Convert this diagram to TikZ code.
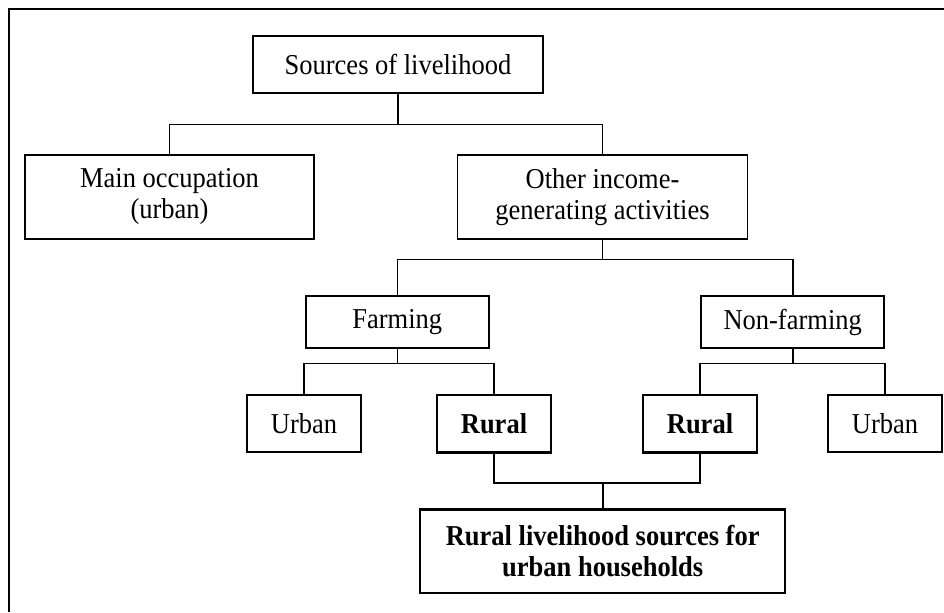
\documentclass[tikz,border=0pt]{standalone}
\usepackage{fontspec}
\setmainfont{Liberation Serif}[FakeStretch=0.92]
\begin{document}
\begin{tikzpicture}[x=0.5pt,y=-0.5pt,
  box/.style={draw=black,line width=0.85pt,rectangle,inner sep=0pt,align=center,
    font=\fontsize{14.4}{15.5}\selectfont},
  boldbox/.style={box,line width=1.2pt,font=\fontsize{14.4}{15.5}\selectfont\bfseries},
  link/.style={draw=black,line width=0.8pt},
  boldlink/.style={draw=black,line width=1.15pt}]
\useasboundingbox (0,0) rectangle (944,612);
\fill[white] (0,0) rectangle (944,612);
% frame
\draw[line width=1pt] (9,612) -- (9,9) -- (944,9);

% boxes
\node[box,minimum width=145pt,minimum height=28.5pt] (src) at (398,64.2) {Sources of livelihood};
\node[box,minimum width=144.5pt,minimum height=42pt] (main) at (169.5,197) {Main occupation\\(urban)};
\node[box,minimum width=145pt,minimum height=42pt] (oth) at (602.5,197) {Other income-\\generating activities};
\node[box,minimum width=91.5pt,minimum height=26.3pt] (farm) at (397.3,322) {Farming};
\node[box,minimum width=91.5pt,minimum height=26.3pt] (nonf) at (792.7,322) {Non-farming};
\node[box,minimum width=57pt,minimum height=28.8pt] (urbL) at (304,423.5) {Urban};
\node[boldbox,minimum width=57pt,minimum height=28.8pt] (rurL) at (494,423.5) {Rural};
\node[boldbox,minimum width=57pt,minimum height=28.8pt] (rurR) at (700,423.5) {Rural};
\node[box,minimum width=57pt,minimum height=28.8pt] (urbR) at (885,423.5) {Urban};
\node[boldbox,minimum width=182.5pt,minimum height=41.7pt] (bot) at (602.7,551) {Rural livelihood sources for\\urban households};

% junction levels
\coordinate (j1) at (0,124.3);
\coordinate (j2) at (0,259.3);
\coordinate (j3) at (0,363.5);
\coordinate (j4) at (0,483.3);

% connectors
\draw[link] (src.south) -- (src.south |- j1);
\draw[link] (main.north) |- (oth.north |- j1) -- (oth.north);
\draw[link] (oth.south) -- (oth.south |- j2);
\draw[link] (farm.north) |- (nonf.north |- j2) -- (nonf.north);
\draw[link] (farm.south) -- (farm.south |- j3);
\draw[link] (urbL.north) |- (rurL.north |- j3) -- (rurL.north);
\draw[link] (nonf.south) -- (nonf.south |- j3);
\draw[link] (rurR.north) |- (urbR.north |- j3) -- (urbR.north);
\draw[boldlink] (rurL.south) |- (rurR.south |- j4) -- (rurR.south);
\draw[boldlink] (bot.north) -- (bot.north |- j4);
\end{tikzpicture}
\end{document}
